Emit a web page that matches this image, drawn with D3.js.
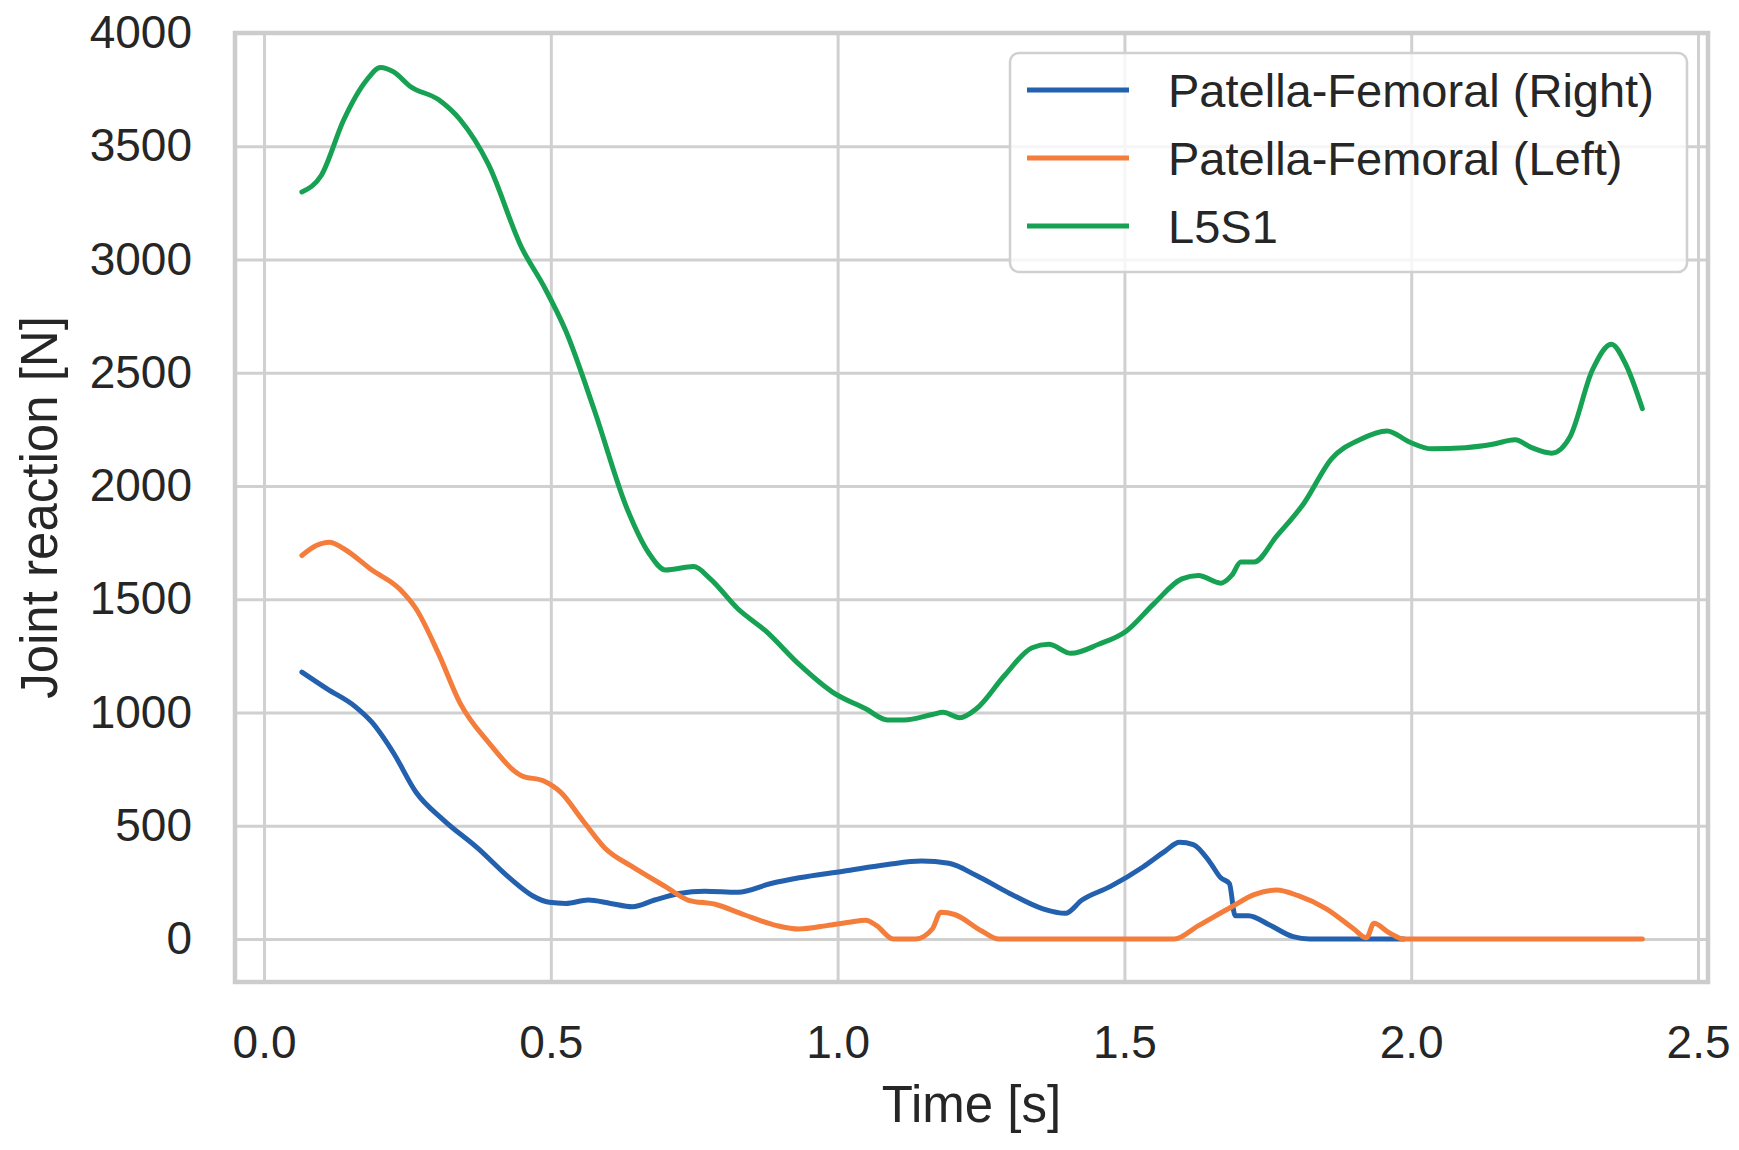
<!DOCTYPE html>
<html>
<head>
<meta charset="utf-8"/>
<title>Joint reaction</title>
<script src="https://cdn.jsdelivr.net/npm/d3@7"></script>
<style>
  body { margin: 0; background: #fff; }
  svg text { font-family: "Liberation Sans", Arial, sans-serif; fill: #262626; }
  .grid line { stroke: #d0d0d0; stroke-width: 3; }
  .grid path { display: none; }
</style>
</head>
<body>
<div id="chart"></div>
<script>
// series: [time s, force N]
var rightKnee = [
  [0.066,1178],[0.110,1104],[0.159,1026],[0.188,957],[0.226,820],[0.265,648],[0.313,525],
  [0.372,402],[0.430,265],[0.468,191],[0.497,162],[0.526,157],[0.565,172],[0.604,157],
  [0.642,142],[0.681,172],[0.724,201],[0.768,211],[0.826,206],[0.884,245],[0.933,270],
  [1.010,299],[1.087,329],[1.146,344],[1.194,334],[1.242,280],[1.300,201],[1.358,133],
  [1.397,113],[1.426,172],[1.475,231],[1.533,319],[1.571,388],[1.596,427],[1.620,417],
  [1.649,339],[1.668,270],[1.683,245],[1.693,103],[1.716,103],[1.755,59],[1.794,10],
  [1.823,0],[1.987,0]
];
var leftKnee = [
  [0.066,1693],[0.091,1737],[0.114,1752],[0.139,1723],[0.188,1629],[0.236,1546],[0.265,1458],
  [0.304,1261],[0.342,1040],[0.391,869],[0.449,721],[0.488,697],[0.517,648],[0.555,525],
  [0.594,402],[0.642,319],[0.700,231],[0.739,172],[0.788,152],[0.836,108],[0.894,59],
  [0.933,44],[0.981,59],[1.020,74],[1.049,83],[1.068,59],[1.097,0],[1.136,0],[1.165,44],
  [1.180,118],[1.204,108],[1.252,34],[1.281,0],[1.587,0],[1.629,59],[1.687,142],[1.726,196],
  [1.765,216],[1.803,191],[1.852,133],[1.900,44],[1.922,5],[1.935,69],[1.960,30],[1.987,0],
  [2.403,0]
];
var l5s1 = [
  [0.066,3298],[0.100,3372],[0.139,3617],[0.178,3789],[0.203,3848],[0.226,3828],[0.255,3764],
  [0.304,3706],[0.342,3617],[0.391,3421],[0.449,3053],[0.488,2881],[0.526,2685],[0.575,2341],
  [0.633,1899],[0.671,1703],[0.700,1629],[0.749,1644],[0.778,1590],[0.826,1458],[0.875,1359],
  [0.933,1212],[0.991,1090],[1.049,1016],[1.087,967],[1.116,967],[1.165,991],[1.184,1001],
  [1.213,977],[1.242,1016],[1.291,1163],[1.339,1286],[1.368,1301],[1.407,1261],[1.455,1301],
  [1.503,1359],[1.552,1482],[1.600,1590],[1.629,1605],[1.668,1571],[1.687,1605],[1.703,1664],
  [1.726,1664],[1.765,1777],[1.813,1924],[1.861,2120],[1.910,2204],[1.958,2243],[1.997,2194],
  [2.036,2164],[2.094,2169],[2.142,2184],[2.181,2204],[2.210,2169],[2.245,2145],[2.277,2218],
  [2.316,2513],[2.349,2626],[2.374,2537],[2.403,2341]
];
var seriesNames = ["Patella-Femoral (Right)", "Patella-Femoral (Left)", "L5S1"];
var seriesColors = ["#2361ae", "#f47d3c", "#16a153"];
var xTicks = [0, 0.5, 1.0, 1.5, 2.0, 2.5];
var yTicks = [0, 500, 1000, 1500, 2000, 2500, 3000, 3500, 4000];

var W = 1739, H = 1150;
var m = { left: 235, right: 1708, top: 33, bottom: 982 };

var svg = d3.select("#chart").append("svg")
  .attr("width", W).attr("height", H);

var x = d3.scaleLinear().domain([-0.0506, 2.5174]).range([m.left, m.right]);
var y = d3.scaleLinear().domain([-190, 4000]).range([m.bottom, m.top]);

// grid + tick labels
var xAxis = d3.axisBottom(x).tickValues(xTicks).tickFormat(d3.format(".1f"))
  .tickSize(-(m.bottom - m.top)).tickPadding(43);
var yAxis = d3.axisLeft(y).tickValues(yTicks).tickFormat(d3.format("d"))
  .tickSize(-(m.right - m.left)).tickPadding(43);

svg.append("g").attr("class", "grid")
  .attr("transform", "translate(0," + m.bottom + ")")
  .call(xAxis)
  .selectAll("text").style("font-size", "46px").attr("fill", "#262626");

svg.append("g").attr("class", "grid")
  .attr("transform", "translate(" + m.left + ",0)")
  .call(yAxis)
  .selectAll("text").style("font-size", "46px").attr("fill", "#262626");

svg.selectAll(".grid .domain").remove();

// lines
svg.append("clipPath").attr("id", "clip")
  .append("rect").attr("x", m.left).attr("y", m.top)
  .attr("width", m.right - m.left).attr("height", m.bottom - m.top);

var line = d3.line()
  .x(function(d) { return x(d[0]); })
  .y(function(d) { return y(d[1]); })
  .curve(d3.curveMonotoneX);

var allSeries = [rightKnee, leftKnee, l5s1];
svg.append("g").attr("clip-path", "url(#clip)")
  .selectAll("path").data(allSeries).enter().append("path")
  .attr("d", line)
  .attr("fill", "none")
  .attr("stroke", function(d, i) { return seriesColors[i]; })
  .attr("stroke-width", 5)
  .attr("stroke-linejoin", "round")
  .attr("stroke-linecap", "round");

// frame
svg.append("rect")
  .attr("x", m.left).attr("y", m.top)
  .attr("width", m.right - m.left).attr("height", m.bottom - m.top)
  .attr("fill", "none").attr("stroke", "#cccccc").attr("stroke-width", 4.5);

// axis labels
svg.append("text")
  .attr("x", (m.left + m.right) / 2).attr("y", 1122)
  .attr("text-anchor", "middle").style("font-size", "51px")
  .text("Time [s]");

svg.append("text")
  .attr("transform", "translate(57," + ((m.top + m.bottom) / 2) + ") rotate(-90)")
  .attr("text-anchor", "middle").style("font-size", "51px")
  .text("Joint reaction [N]");

// legend
var legend = svg.append("g");
legend.append("rect")
  .attr("x", 1010).attr("y", 53).attr("width", 677).attr("height", 219)
  .attr("rx", 9).attr("ry", 9)
  .attr("fill", "#ffffff").attr("fill-opacity", 0.8)
  .attr("stroke", "#d0d0d0").attr("stroke-width", 2.5);

var rows = legend.selectAll("g.row").data(seriesNames).enter().append("g")
  .attr("class", "row")
  .attr("transform", function(d, i) { return "translate(0," + (90 + i * 68) + ")"; });
rows.append("line")
  .attr("x1", 1027).attr("x2", 1129).attr("y1", 0).attr("y2", 0)
  .attr("stroke", function(d, i) { return seriesColors[i]; })
  .attr("stroke-width", 5);
rows.append("text")
  .attr("x", 1168).attr("dy", "0.36em")
  .style("font-size", "47px")
  .text(function(d) { return d; });
</script>
</body>
</html>
